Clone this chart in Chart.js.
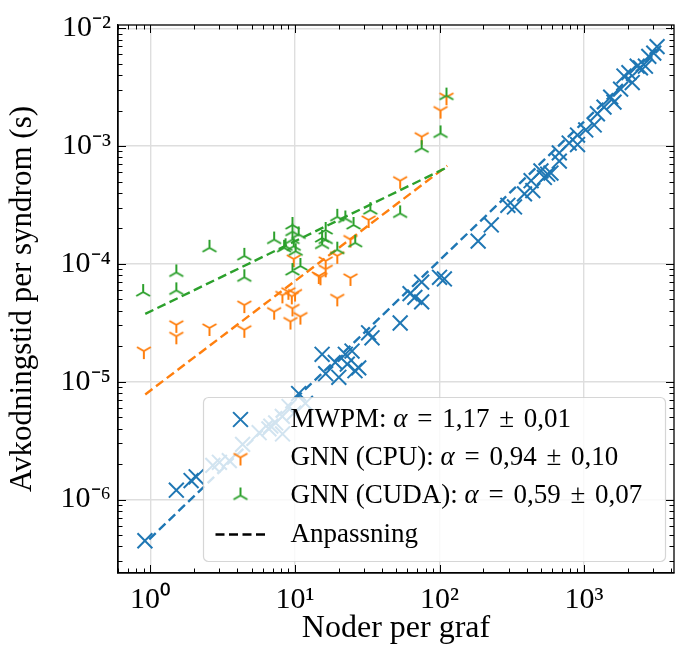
<!DOCTYPE html>
<html><head><meta charset="utf-8">
<script src="https://cdn.jsdelivr.net/npm/chart.js@4.4.1/dist/chart.umd.min.js"></script>
<style>html,body{margin:0;padding:0;background:#fff}canvas{display:block}</style>
</head><body>
<canvas id="c" width="683" height="646"></canvas>
<script>
// ---------- data ----------
const mwpmX = [0.915,1.51,1.91,2.07,2.7,3.0,3.51,4.34,5.65,6.6,6.8,7.35,8.17,8.2,9.1,9.8,10.6,11.8,15.4,16.3,19,20.1,22.3,23,24.8,26,27.6,32.3,34.1,53.4,62.5,67.5,75.2,75.2,100,108,185,228,297,330,387,430,442,503,531,560,590,674,674,789,901,901,1027,1175,1237,1374,1528,1611,1790,1888,2043,2154,2331,2455,2658,2805,3035,3200];
const mwpmY = [4.47e-7,1.2e-6,1.45e-6,1.56e-6,1.95e-6,2.07e-6,2.14e-6,2.94e-6,3.69e-6,3.98e-6,4.2e-6,4.47e-6,5.08e-6,3.6e-6,6.15e-6,5.4e-6,7.94e-6,6.56e-6,1.71e-5,1.17e-5,1.46e-5,1.09e-5,1.71e-5,1.41e-5,1.82e-5,1.24e-5,1.31e-5,2.6e-5,2.36e-5,3.15e-5,5.59e-5,5.2e-5,7.0e-5,4.76e-5,7.7e-5,7.45e-5,1.56e-4,2.14e-4,3.14e-4,3.04e-4,3.93e-4,5.08e-4,4.19e-4,6.15e-4,5.41e-4,5.77e-4,5.9e-4,7.45e-4,8.75e-4,1.06e-3,1.03e-3,1.24e-3,1.37e-3,1.51e-3,1.88e-3,2.14e-3,2.6e-3,2.36e-3,3.04e-3,3.93e-3,4.19e-3,3.46e-3,4.76e-3,4.61e-3,4.76e-3,5.77e-3,6.15e-3,6.98e-3];

const cpuX = [0.9,1.51,1.51,2.56,4.46,4.46,7.17,8.18,9.0,9.5,10.0,9.6,9.3,10.9,9.8,14.6,15.0,16.3,16.3,19.6,19.6,24.2,24.2,32.3,53.4,75.2,101.6,111.7];
const cpuY = [1.82e-5,3.04e-5,2.43e-5,2.86e-5,4.47e-5,2.76e-5,3.93e-5,5.41e-5,5.8e-5,5.3e-5,5.6e-5,4.19e-5,3.24e-5,3.57e-5,1.1e-4,7.9e-5,7.7e-5,1.06e-4,9.0e-5,1.17e-4,5.1e-5,1.61e-4,7.6e-5,2.36e-4,5.08e-4,1.2e-3,2.0e-3,2.6e-3];

const cudaX = [0.89,1.51,1.51,2.56,4.46,4.46,7.17,8.4,8.6,9.6,9.6,9.6,9.8,10.1,9.6,10.9,10.6,15.4,15.4,16.3,16.3,19.6,22.3,19.6,25.4,26.1,33.2,53.4,75.2,101.6,111.7];
const cudaY = [5.77e-5,8.47e-5,5.96e-5,1.37e-4,1.17e-4,7.7e-5,1.61e-4,1.37e-4,1.41e-4,2.14e-4,1.88e-4,1.61e-4,1.41e-4,1.28e-4,8.7e-5,9.6e-5,1.78e-4,1.66e-4,1.46e-4,1.94e-4,1.61e-4,2.51e-4,2.43e-4,1.32e-4,2.14e-4,1.51e-4,2.86e-4,2.68e-4,9.6e-4,1.28e-3,2.68e-3];

// fitted power laws (end points)
const mwpmFitX = [0.98, 3300];
const mwpmFitY = [4.6e-7, 6.6e-3];
const cpuFitX  = [0.92, 113];
const cpuFitY  = [7.8e-6, 6.8e-4];
const cudaFitX = [0.92, 113];
const cudaFitY = [3.76e-5, 6.6e-4];

const seriesNames = ['MWPM', 'GNN (CPU)', 'GNN (CUDA)'];
const alphaValues = ['1,17', '0,94', '0,59'];
const alphaErrors = ['0,01', '0,10', '0,07'];
const fitName = 'Anpassning';

const xTickValues = [1, 10, 100, 1000];
const xTickLabels = ['10⁰', '10¹', '10²', '10³'];
const yTickValues = [1e-6, 1e-5, 1e-4, 1e-3, 1e-2];
const yTickLabels = ['10⁻⁶', '10⁻⁵', '10⁻⁴', '10⁻³', '10⁻²'];

const xTitle = 'Noder per graf';
const yTitle = 'Avkodningstid per syndrom (s)';

// ---------- styling ----------
const BLUE = '#1f77b4', ORANGE = '#ff7f0e', GREEN = '#2ca02c';
const FONT = "'Liberation Serif', 'Times New Roman', serif";

function triMarker(color, down) {
  const L = 8, s = 2 * L + 4;
  const c = document.createElement('canvas');
  c.width = s; c.height = s;
  const g = c.getContext('2d');
  g.strokeStyle = color; g.lineWidth = 2; g.lineCap = 'butt';
  g.translate(s / 2, s / 2);
  const angs = down ? [90, 210, 330] : [270, 30, 150];
  g.beginPath();
  for (const a of angs) {
    const r = a * Math.PI / 180;
    g.moveTo(0, 0); g.lineTo(L * Math.cos(r), L * Math.sin(r));
  }
  g.stroke();
  return c;
}
const cpuMarker = triMarker(ORANGE, true);
const cudaMarker = triMarker(GREEN, false);

const zip = (xs, ys) => xs.map((x, i) => ({x, y: ys[i]}));
const isPow10 = v => { const e = Math.log10(v); return Math.abs(e - Math.round(e)) < 1e-9; };
const findLabel = (vals, labs, v) => { for (let i = 0; i < vals.length; i++) if (Math.abs(Math.log10(v) - Math.log10(vals[i])) < 1e-9) return labs[i]; return ''; };

const fitStyle = color => ({showLine: true, pointRadius: 0, borderColor: color, borderWidth: 2.4, borderDash: [9, 4.5], fill: false});

const legendPlugin = {
  id: 'boxLegend',
  afterDatasetsDraw(chart) {
    const ctx = chart.ctx, a = chart.chartArea;
    const w = 462, h = 164;
    const bx = a.right - 9 - w + 0.5, by = a.bottom - 12 - h + 0.5;
    ctx.save();
    ctx.beginPath();
    ctx.roundRect(bx, by, w, h, 5);
    ctx.fillStyle = 'rgba(255,255,255,0.8)';
    ctx.fill();
    ctx.strokeStyle = 'rgba(204,204,204,0.8)';
    ctx.lineWidth = 1.2;
    ctx.stroke();
    const mx = bx + 37, tx = bx + 87;
    const rows = [by + 22, by + 60, by + 98, by + 137];
    // markers
    ctx.strokeStyle = BLUE; ctx.lineWidth = 2;
    const d = 7.4;
    ctx.beginPath();
    ctx.moveTo(mx - d, rows[0] - d); ctx.lineTo(mx + d, rows[0] + d);
    ctx.moveTo(mx + d, rows[0] - d); ctx.lineTo(mx - d, rows[0] + d);
    ctx.stroke();
    ctx.drawImage(cpuMarker, mx - cpuMarker.width / 2, rows[1] - cpuMarker.height / 2);
    ctx.drawImage(cudaMarker, mx - cudaMarker.width / 2, rows[2] - cudaMarker.height / 2);
    ctx.strokeStyle = '#000'; ctx.lineWidth = 2.4; ctx.setLineDash([9, 4.5]);
    ctx.beginPath(); ctx.moveTo(mx - 25, rows[3]); ctx.lineTo(mx + 27, rows[3]); ctx.stroke();
    ctx.setLineDash([]);
    // texts
    ctx.fillStyle = '#000'; ctx.textBaseline = 'middle'; ctx.textAlign = 'left';
    const fs = 27, norm = fs + 'px ' + FONT, ital = 'italic ' + fs + 'px ' + FONT;
    const gap = 3;
    for (let i = 0; i < 3; i++) {
      let x = tx;
      const put = (t, f, extra) => { ctx.font = f; ctx.fillText(t, x, rows[i]); x += ctx.measureText(t).width + (extra || 0); };
      put(seriesNames[i] + ': ', norm);
      put('α', ital, gap);
      put(' = ', norm, gap);
      put(alphaValues[i], norm, gap);
      put(' ± ', norm, gap);
      put(alphaErrors[i], norm);
    }
    ctx.font = norm;
    ctx.fillText(fitName, tx, rows[3]);
    ctx.restore();
  }
};

const framePlugin = {
  id: 'frameTicks',
  afterDraw(chart) {
    const ctx = chart.ctx, a = chart.chartArea;
    const {x, y} = chart.scales;
    ctx.save();
    ctx.strokeStyle = '#000';
    ctx.lineWidth = 1;
    ctx.beginPath();
    for (const s of [x, y]) {
      const lo = Math.floor(Math.log10(s.min)), hi = Math.ceil(Math.log10(s.max));
      for (let dd = lo; dd <= hi; dd++) for (let k = 1; k <= 9; k++) {
        const v = k * Math.pow(10, dd);
        if (v < s.min * 0.9999 || v > s.max * 1.0001) continue;
        const p = Math.round(s.getPixelForValue(v)) + 0.5;
        const L = k === 1 ? 8 : 4.5;
        if (s === x) {
          ctx.moveTo(p, a.bottom); ctx.lineTo(p, a.bottom - L);
          ctx.moveTo(p, a.top); ctx.lineTo(p, a.top + L);
        } else {
          ctx.moveTo(a.left, p); ctx.lineTo(a.left + L, p);
          ctx.moveTo(a.right, p); ctx.lineTo(a.right - L, p);
        }
      }
    }
    ctx.stroke();
    ctx.lineWidth = 1.3;
    ctx.strokeRect(a.left, a.top, a.right - a.left, a.bottom - a.top);
    ctx.restore();
  }
};

Chart.defaults.font.family = FONT;
Chart.defaults.color = '#000';

new Chart(document.getElementById('c'), {
  type: 'scatter',
  data: {
    datasets: [
      Object.assign({label: fitName + ' CUDA', data: zip(cudaFitX, cudaFitY)}, fitStyle(GREEN)),
      {label: seriesNames[2], data: zip(cudaX, cudaY), pointStyle: cudaMarker, pointRadius: 8, borderColor: GREEN, backgroundColor: GREEN},
      Object.assign({label: fitName + ' CPU', data: zip(cpuFitX, cpuFitY)}, fitStyle(ORANGE)),
      {label: seriesNames[1], data: zip(cpuX, cpuY), pointStyle: cpuMarker, pointRadius: 8, borderColor: ORANGE, backgroundColor: ORANGE},
      Object.assign({label: fitName + ' MWPM', data: zip(mwpmFitX, mwpmFitY)}, fitStyle(BLUE)),
      {label: seriesNames[0], data: zip(mwpmX, mwpmY), pointStyle: 'crossRot', pointRadius: 10.5, borderWidth: 2, borderColor: BLUE, backgroundColor: BLUE}
    ]
  },
  options: {
    responsive: false,
    animation: false,
    devicePixelRatio: 1,
    layout: {padding: {left: 0, right: 6, top: 15, bottom: 0}, autoPadding: false},
    plugins: {legend: {display: false}, tooltip: {enabled: false}},
    scales: {
      x: {
        type: 'logarithmic', min: 0.596, max: 4190,
        afterFit(s) { s.height = 73; },
        border: {display: true, color: '#000', width: 1.3},
        grid: {drawTicks: false, lineWidth: 1.4, color: c => (c.tick && isPow10(c.tick.value)) ? '#dedede' : 'rgba(0,0,0,0)'},
        ticks: {autoSkip: false, maxRotation: 0, padding: 9, font: {size: 30},
          callback: v => findLabel(xTickValues, xTickLabels, v)},
        title: {display: true, text: xTitle, font: {size: 32, lineHeight: 1}, padding: {top: 0, bottom: 1}}
      },
      y: {
        type: 'logarithmic', min: 2.38e-7, max: 1.065e-2,
        afterFit(s) { s.width = 118; },
        border: {display: true, color: '#000', width: 1.3},
        grid: {drawTicks: false, lineWidth: 1.4, color: c => (c.tick && isPow10(c.tick.value)) ? '#dedede' : 'rgba(0,0,0,0)'},
        ticks: {autoSkip: false, padding: 7, font: {size: 30},
          callback: v => findLabel(yTickValues, yTickLabels, v)},
        title: {display: true, text: yTitle, font: {size: 31, lineHeight: 1}, padding: {top: 7, bottom: 0}}
      }
    }
  },
  plugins: [legendPlugin, framePlugin]
});
</script>
</body></html>
